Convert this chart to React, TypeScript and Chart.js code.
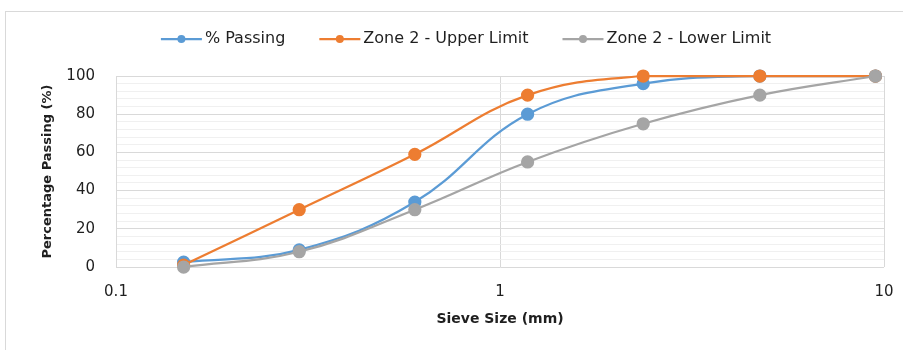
import React, { useEffect, useRef } from 'react';
import { Chart, registerables } from 'chart.js';

Chart.register(...registerables);

// ---- Data ----
const sieveSizes = [0.15, 0.3, 0.6, 1.18, 2.36, 4.75, 9.5];
const passing = [2.5, 9, 34, 80, 96, 100, 100];
const upperLimit = [1, 30, 59, 90, 100, 100, 100];
const lowerLimit = [0, 8, 30, 55, 75, 90, 100];
const seriesNames = ['% Passing', 'Zone 2 - Upper Limit', 'Zone 2 - Lower Limit'];
const seriesColors = ['#5B9BD5', '#ED7D31', '#A5A5A5'];
const xTickValues = [0.1, 1, 10];
const yTickLabels = [0, 20, 40, 60, 80, 100];
const xTitle = 'Sieve Size (mm)';
const yTitle = 'Percentage Passing (%)';

const FONT = '"DejaVu Sans", sans-serif';
const TEXT = '#1f1f1f';

const borderPlugin = {
  id: 'outerBorder',
  beforeDraw(chart: any) {
    const ctx = chart.ctx;
    ctx.save();
    ctx.fillStyle = '#ffffff';
    ctx.fillRect(0, 0, chart.width, chart.height);
    ctx.strokeStyle = '#D9D9D9';
    ctx.lineWidth = 1;
    ctx.strokeRect(5.5, 11.5, 2000, 2000);
    ctx.restore();
  },
};

const legendPlugin = {
  id: 'lineLegend',
  afterDraw(chart: any) {
    const ctx = chart.ctx;
    ctx.save();
    ctx.font = `16px ${FONT}`;
    const lineLen = 41;
    const gapText = 3;
    const gapItem = 34;
    const widths = seriesNames.map((n) => ctx.measureText(n).width);
    const total =
      widths.reduce((a, w) => a + lineLen + gapText + w, 0) + gapItem * (seriesNames.length - 1);
    let x = 466 - total / 2;
    const y = 39;
    ctx.textBaseline = 'middle';
    ctx.textAlign = 'left';
    seriesNames.forEach((name, i) => {
      ctx.strokeStyle = seriesColors[i];
      ctx.lineWidth = 2.25;
      ctx.beginPath();
      ctx.moveTo(x, y);
      ctx.lineTo(x + lineLen, y);
      ctx.stroke();
      ctx.fillStyle = seriesColors[i];
      ctx.beginPath();
      ctx.arc(x + lineLen / 2, y, 4, 0, Math.PI * 2);
      ctx.fill();
      ctx.fillStyle = TEXT;
      ctx.fillText(name, x + lineLen + gapText, y);
      x += lineLen + gapText + widths[i] + gapItem;
    });
    ctx.restore();
  },
};

export default function App() {
  const canvasRef = useRef<HTMLCanvasElement | null>(null);

  useEffect(() => {
    if (!canvasRef.current) return;
    const series = [passing, upperLimit, lowerLimit];
    const chart = new Chart(canvasRef.current, {
      type: 'line',
      data: {
        datasets: series.map((vals, i) => ({
          label: seriesNames[i],
          data: sieveSizes.map((s, j) => ({ x: s, y: vals[j] })),
          borderColor: seriesColors[i],
          backgroundColor: seriesColors[i],
          pointBackgroundColor: seriesColors[i],
          pointBorderColor: seriesColors[i],
          pointRadius: 5.5,
          pointHoverRadius: 5.5,
          borderWidth: 2.25,
          tension: 0.4,
          fill: false,
          clip: false as any,
          order: 3 - i,
        })),
      },
      options: {
        animation: false,
        responsive: false,
        devicePixelRatio: 1,
        events: [],
        layout: { padding: { left: 0, right: 19, top: 76, bottom: 0 } },
        plugins: {
          legend: { display: false },
          tooltip: { enabled: false },
        },
        scales: {
          x: {
            type: 'logarithmic',
            min: 0.1,
            max: 10,
            afterBuildTicks: (s: any) => {
              s.ticks = xTickValues.map((v) => ({ value: v }));
            },
            afterFit: (s: any) => {
              s.height = 83;
            },
            ticks: {
              autoSkip: false,
              maxRotation: 0,
              padding: 0,
              color: TEXT,
              font: { family: FONT, size: 15, lineHeight: 3.4 },
              callback: (v: any) => String(v),
            },
            grid: { color: '#D9D9D9', drawTicks: false, lineWidth: 1 },
            border: { display: false },
            title: {
              display: true,
              text: xTitle,
              color: TEXT,
              font: { family: FONT, size: 14, weight: 'bold' },
              padding: { top: 0, bottom: 22 },
            },
          },
          y: {
            min: 0,
            max: 100,
            afterFit: (s: any) => {
              s.width = 116;
            },
            ticks: {
              stepSize: 4,
              autoSkip: false,
              padding: 21,
              color: TEXT,
              font: { family: FONT, size: 15 },
              callback: (v: any) => (yTickLabels.includes(Number(v)) ? String(v) : ''),
            },
            grid: {
              drawTicks: false,
              lineWidth: 1,
              color: (c: any) =>
                c.tick && yTickLabels.includes(c.tick.value) ? '#D9D9D9' : '#F0F0F0',
            },
            border: { display: true, color: '#D9D9D9' },
            title: {
              display: true,
              text: yTitle,
              color: TEXT,
              font: { family: FONT, size: 13, weight: 'bold' },
              padding: { top: 40, bottom: 0 },
            },
          },
        },
      },
      plugins: [borderPlugin, legendPlugin],
    });
    return () => chart.destroy();
  }, []);

  return (
    <div style={{ position: 'absolute', left: 0, top: 0, width: 903, height: 350 }}>
      <canvas ref={canvasRef} width={903} height={350} style={{ width: 903, height: 350 }} />
    </div>
  );
}
